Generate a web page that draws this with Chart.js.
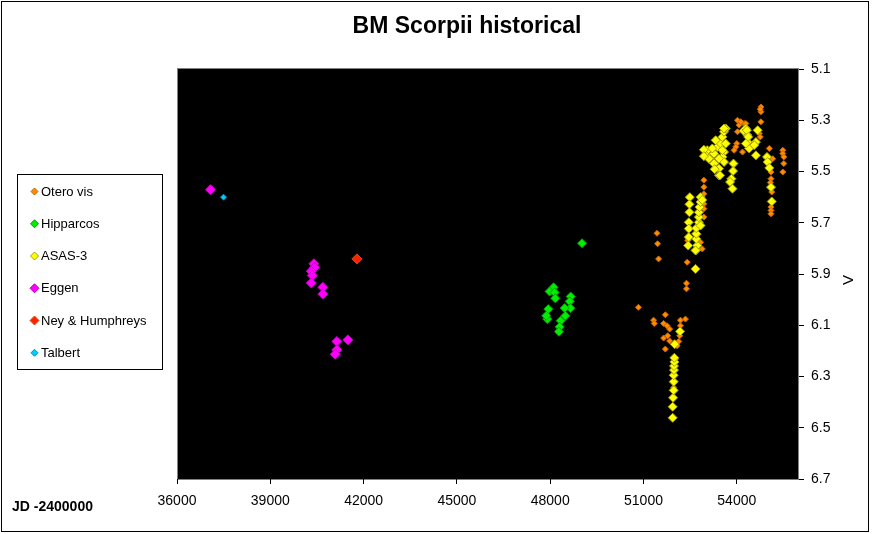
<!DOCTYPE html>
<html>
<head>
<meta charset="utf-8">
<script src="https://cdn.jsdelivr.net/npm/chart.js@4.4.1/dist/chart.umd.min.js"></script>
<style>
  html, body { margin: 0; padding: 0; background: #fff; }
  #wrap { width: 876px; height: 534px; }
</style>
</head>
<body>
<div id="wrap"><canvas id="c" width="876" height="534"></canvas></div>
<script>
// data (JD - 2400000, V mag)
var seriesNames = ['Otero vis', 'Hipparcos', 'ASAS-3', 'Eggen', 'Ney & Humphreys', 'Talbert'];
var xTicks = [36000, 39000, 42000, 45000, 48000, 51000, 54000];
var yTicks = [5.1, 5.3, 5.5, 5.7, 5.9, 6.1, 6.3, 6.5, 6.7];

var oteroJD = [50838, 51434, 51453, 51485, 51702, 51324, 51346, 51647, 51757, 51841,
  52188, 52349, 52188, 52165, 52133, 52081, 51777, 51647, 51702, 51841,
  52026, 51971, 52382, 52382, 52404, 52424, 52835, 52890, 52802, 52750,
  52942, 52942, 52942, 52942, 52942, 52942, 54022, 54074, 54022, 54000,
  53967, 53912, 54184, 54236, 54291, 54129, 54776, 54776, 54754, 54776,
  54721, 54754, 55045, 55155, 55479, 55479, 55511, 55511, 55479, 55100,
  55078, 55123, 55100, 55100, 55100, 55100];
var oteroV = [6.030, 5.741, 5.782, 5.841, 6.059, 6.080, 6.093, 6.093, 6.102, 6.115,
  6.080, 6.076, 6.102, 6.141, 6.163, 6.180, 6.141, 6.150, 6.193, 6.161,
  6.232, 6.343, 5.936, 5.958, 5.854, 5.769, 5.776, 5.802, 5.700, 5.745,
  5.534, 5.561, 5.587, 5.626, 5.645, 5.678, 5.300, 5.319, 5.345, 5.391,
  5.404, 5.417, 5.424, 5.313, 5.313, 5.306, 5.248, 5.267, 5.257, 5.306,
  5.352, 5.365, 5.410, 5.450, 5.417, 5.430, 5.443, 5.469, 5.502, 5.528,
  5.543, 5.580, 5.639, 5.652, 5.665, 5.502];

var hippJD = [49025, 48109, 47980, 48142, 48164, 48659, 48627, 48649, 47938, 47906,
  48465, 48487, 48336, 48304, 48281, 47873];
var hippV = [5.780, 5.952, 5.968, 5.972, 5.995, 5.988, 6.007, 6.033, 6.037, 6.076,
  6.033, 6.063, 6.082, 6.106, 6.125, 6.063];

var asasJD = [51938, 51938, 51951, 51971, 51971, 51971, 51981, 51981, 51993, 51993,
  52003, 52178, 52489, 52478, 52478, 52456, 52456, 52456, 52437, 52673,
  52696, 52728, 52696, 52696, 52696, 52780, 52780, 52780, 52802, 52835,
  52835, 52890, 52835, 52673, 53158, 53052, 52997, 53158, 53265, 53427,
  53427, 53375, 53482, 53537, 53589, 53644, 53589, 53537, 53589, 53427,
  53265, 53320, 53893, 53880, 53828, 53783, 53861, 54346, 54346, 54398,
  54615, 54670, 54615, 54217, 54291, 54560, 54323, 54366, 54291, 54971,
  54993, 55045, 55100, 55123, 53103, 53288, 53459, 53213, 53644, 53537,
  52942, 52942, 53589];
var asasV = [6.461, 6.418, 6.383, 6.354, 6.320, 6.295, 6.275, 6.259, 6.243, 6.227,
  6.174, 6.124, 5.600, 5.628, 5.659, 5.698, 5.723, 5.756, 5.789, 5.880,
  5.806, 5.789, 5.763, 5.743, 5.721, 5.698, 5.678, 5.659, 5.639, 5.619,
  5.600, 5.611, 5.711, 5.808, 5.428, 5.417, 5.437, 5.456, 5.469, 5.489,
  5.515, 5.404, 5.391, 5.365, 5.345, 5.332, 5.424, 5.443, 5.463, 5.450,
  5.430, 5.378, 5.469, 5.498, 5.528, 5.541, 5.567, 5.358, 5.385, 5.410,
  5.385, 5.339, 5.437, 5.341, 5.332, 5.397, 5.339, 5.365, 5.391, 5.443,
  5.463, 5.486, 5.561, 5.617, 5.450, 5.491, 5.515, 5.410, 5.391, 5.417,
  5.415, 5.440, 5.332];

var eggenJD = [37078, 40401, 40423, 40317, 40349, 40317, 40690, 40690, 41141, 41495, 41141, 41089];
var eggenV = [5.571, 5.860, 5.874, 5.889, 5.906, 5.935, 5.952, 5.978, 6.163, 6.157, 6.196, 6.213];

var neyJD = [41784];
var neyV = [5.841];

var talbertJD = [37496];
var talbertV = [5.600];

// styles
var fills   = ['#ff8c00', '#00ee00', '#ffff00', '#ff00ff', '#ff2000', '#00ccff'];
var borders = ['#c86400', '#00a000', '#a0a000', '#c000c0', '#e05000', '#0090c0'];
var radii   = [3, 4.5, 4.5, 5, 5, 3];
var legendRadii = [3.5, 4, 4, 4.5, 4.5, 3.5];
var drawOrder = [5, 2, 1, 3, 4, 0];

function pts(xs, ys) {
  return xs.map(function (x, i) { return { x: x, y: ys[i] }; });
}
var allX = [oteroJD, hippJD, asasJD, eggenJD, neyJD, talbertJD];
var allY = [oteroV, hippV, asasV, eggenV, neyV, talbertV];

var datasets = [];
for (let i = 0; i < seriesNames.length; i++) {
  datasets.push({
    label: seriesNames[i],
    data: pts(allX[i], allY[i]),
    pointStyle: 'rectRot',
    pointRadius: radii[i],
    pointBackgroundColor: fills[i],
    pointBorderColor: borders[i],
    pointBorderWidth: 1,
    showLine: false,
    order: drawOrder[i]
  });
}

var FONT = 'Arial, "Liberation Sans", sans-serif';

function diamond(ctx, x, y, r) {
  ctx.beginPath();
  ctx.moveTo(x - r, y);
  ctx.lineTo(x, y - r);
  ctx.lineTo(x + r, y);
  ctx.lineTo(x, y + r);
  ctx.closePath();
  ctx.fill();
  ctx.stroke();
}

var frame = {
  id: 'frame',
  beforeDraw: function (chart) {
    var ctx = chart.ctx, a = chart.chartArea;
    ctx.save();
    ctx.fillStyle = '#fff';
    ctx.fillRect(0, 0, chart.width, chart.height);
    ctx.strokeStyle = '#000';
    ctx.lineWidth = 1;
    ctx.strokeRect(1.5, 1.5, 867, 530);
    ctx.fillStyle = '#000';
    ctx.fillRect(a.left, a.top, a.right - a.left, a.bottom - a.top);
    ctx.strokeStyle = '#808080';
    ctx.strokeRect(a.left + 0.5, a.top - 0.5, a.right - a.left - 1, a.bottom - a.top + 1);
    ctx.restore();
  },
  afterDraw: function (chart) {
    var ctx = chart.ctx;
    ctx.save();
    ctx.fillStyle = '#000';
    ctx.textBaseline = 'middle';

    ctx.textAlign = 'center';
    ctx.font = 'bold 23px ' + FONT;
    ctx.fillText('BM Scorpii historical', 467, 27);

    ctx.textAlign = 'left';
    ctx.font = 'bold 14px ' + FONT;
    ctx.fillText('JD -2400000', 12, 507);

    ctx.save();
    ctx.translate(848.5, 280);
    ctx.rotate(-Math.PI / 2);
    ctx.textAlign = 'center';
    ctx.font = '15px ' + FONT;
    ctx.fillText('V', 0, 0);
    ctx.restore();

    // legend box
    ctx.fillStyle = '#fff';
    ctx.fillRect(17, 174, 145, 195);
    ctx.strokeStyle = '#000';
    ctx.lineWidth = 1;
    ctx.strokeRect(17.5, 174.5, 145, 195);
    ctx.font = '13px ' + FONT;
    for (let i = 0; i < seriesNames.length; i++) {
      var y = 191.5 + i * 32.25;
      ctx.fillStyle = fills[i];
      ctx.strokeStyle = borders[i];
      diamond(ctx, 34.5, y, legendRadii[i]);
      ctx.fillStyle = '#000';
      ctx.textAlign = 'left';
      ctx.fillText(seriesNames[i], 41, y + 0.5);
    }
    ctx.restore();
  }
};

var tickFont = { family: FONT, size: 14 };

new Chart(document.getElementById('c'), {
  type: 'scatter',
  data: { datasets: datasets },
  options: {
    responsive: false,
    devicePixelRatio: 1,
    animation: false,
    layout: { padding: { left: 177, top: 69, right: 0, bottom: 0 } },
    plugins: { legend: { display: false }, tooltip: { enabled: false } },
    scales: {
      x: {
        type: 'linear',
        position: 'bottom',
        min: 36000,
        max: 56000,
        afterFit: function (s) { s.height = 55; },
        afterBuildTicks: function (s) { s.ticks = xTicks.map(function (v) { return { value: v }; }); },
        ticks: {
          callback: function (v) { return String(v); },
          font: tickFont, color: '#000', padding: 9,
          maxRotation: 0, autoSkip: false
        },
        grid: { drawOnChartArea: false, drawTicks: true, tickLength: 5, color: '#000' },
        border: { display: false }
      },
      y: {
        type: 'linear',
        position: 'right',
        reverse: true,
        min: 5.1,
        max: 6.7,
        afterFit: function (s) { s.width = 77; },
        afterBuildTicks: function (s) { s.ticks = yTicks.map(function (v) { return { value: v }; }); },
        ticks: {
          callback: function (v) { return v.toFixed(1); },
          font: tickFont, color: '#000', padding: 7, autoSkip: false
        },
        grid: { drawOnChartArea: false, drawTicks: true, tickLength: 5, color: '#000' },
        border: { display: false }
      }
    }
  },
  plugins: [frame]
});
</script>
</body>
</html>
